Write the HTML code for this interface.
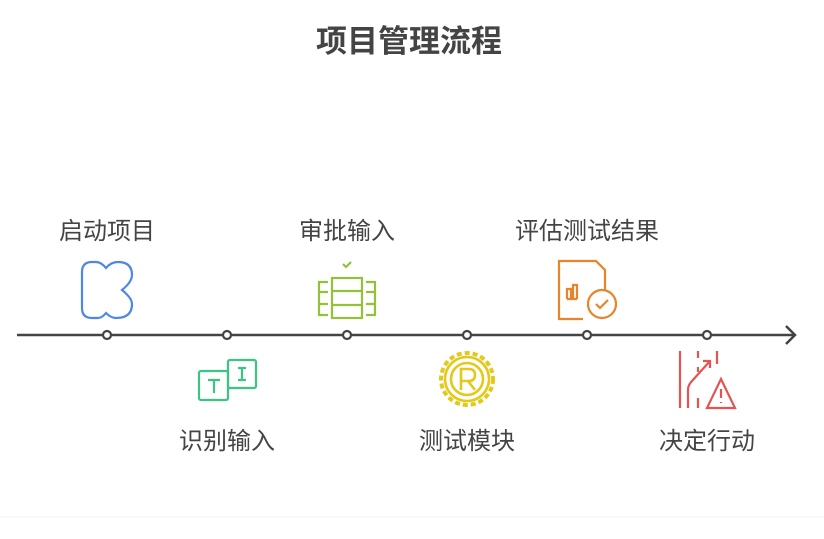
<!DOCTYPE html>
<html><head><meta charset="utf-8"><style>
body{margin:0;background:#fff;}
svg{display:block;font-family:"Liberation Sans","Noto Sans CJK SC",sans-serif;}
</style></head><body>
<svg width="824" height="539" viewBox="0 0 824 539">
<text x="409" y="52" text-anchor="middle" font-size="31" font-weight="bold" fill="#444">项目管理流程</text>
<line x1="0" y1="517" x2="824" y2="517" stroke="#f3f3f3" stroke-width="1"/>
<line x1="17" y1="335" x2="795" y2="335" stroke="#444" stroke-width="2.5"/>
<polyline points="786,326 795,335 786,344" fill="none" stroke="#444" stroke-width="2.5"/>
<g fill="#fff" stroke="#444" stroke-width="2.2">
<circle cx="107" cy="335" r="4"/><circle cx="227" cy="335" r="4"/><circle cx="347" cy="335" r="4"/>
<circle cx="467" cy="335" r="4"/><circle cx="587" cy="335" r="4"/><circle cx="707" cy="335" r="4"/>
</g>
<g font-size="24" fill="#444" text-anchor="middle">
<text x="107" y="239">启动项目</text>
<text x="347" y="239">审批输入</text>
<text x="587" y="239">评估测试结果</text>
<text x="227" y="449">识别输入</text>
<text x="467" y="449">测试模块</text>
<text x="707" y="449">决定行动</text>
</g>
<path d="M92,262 Q82,262 82,272 L82,308 Q82,318 92,318 L98,318 Q102,318 106,313 Q111,318 116,318 Q132,318 132,304 Q132,298 122,290 Q132,282 132,275 Q132,262 118,262 Q111,262 106,268 Q101,262 96,262 Z" fill="none" stroke="#4f87e6" stroke-width="2.2"/>
<g fill="none" stroke="#3cc484" stroke-width="2.2">
<rect x="199" y="371" width="29" height="29" rx="2"/>
<rect x="228" y="360" width="28" height="28" rx="2"/>
<path d="M208,380 h12 M214,380 v13 M238,368 h8 M242,368 v12 M238,380 h8"/>
</g>
<g fill="none" stroke="#94c13c" stroke-width="2.2">
<path d="M343,264 l3,3 l5,-5"/>
<rect x="332" y="278" width="30" height="40"/>
<path d="M332,291 h30 M332,305 h30"/>
<path d="M328,282 h-9 v33 h9 M319,292 h9 M319,304 h9"/>
<path d="M366,282 h9 v33 h-9 M375,292 h-9 M375,304 h-9"/>
</g>
<g fill="none" stroke="#e3c91a" stroke-width="2.6">
<circle cx="467" cy="379" r="26" stroke-dasharray="5 3" stroke-width="4"/>
<circle cx="467" cy="379" r="22"/>
<circle cx="467" cy="379" r="16"/>
<path d="M461,390 v-21 h8 q6,0 6,6 q0,6 -6,6 h-8 M468,381 l7,9"/>
</g>
<g fill="none" stroke="#e8842a" stroke-width="2.2">
<path d="M583,319 h-24 v-58 h37 l9,9 v20"/>
<path d="M567,299 v-10 h4 v10 M573,299 v-14 h4 v14 M567,299 h10"/>
<circle cx="602" cy="304" r="14"/>
<path d="M596,304 l4,4 l8,-8"/>
</g>
<g fill="none" stroke="#e55353" stroke-width="2.2">
<path d="M680,351 v57 M717,351 v13 M698,351 v7 M698,367 v5 M698,398 v10"/>
<path d="M688,408 v-18 q0,-5 4,-9 l18,-20 M703,361 h7 v7"/>
<path d="M721,379 l-14,29 h28 z"/>
<path d="M721,389 v9 M721,402 v1"/>
</g>
</svg>
</body></html>
